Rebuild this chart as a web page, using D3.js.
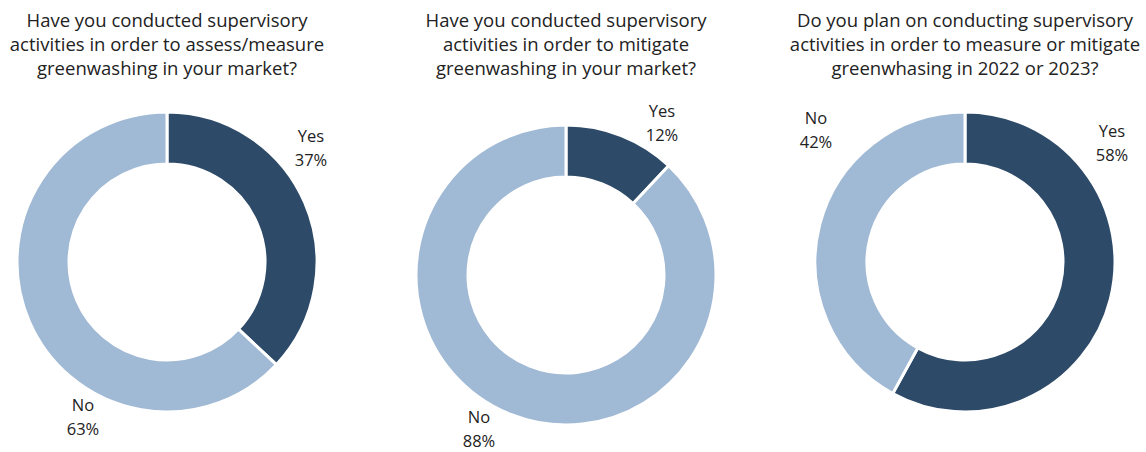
<!DOCTYPE html>
<html><head><meta charset="utf-8">
<script src="https://cdn.jsdelivr.net/npm/d3@7"></script>
<style>body{margin:0;background:#fff}svg{display:block}</style>
</head><body><svg id="c" width="1146" height="452"></svg>
<script>
const titles = [
  ["Have you conducted supervisory","activities in order to assess/measure","greenwashing in your market?"],
  ["Have you conducted supervisory","activities in order to mitigate","greenwashing in your market?"],
  ["Do you plan on conducting supervisory","activities in order to measure or mitigate","greenwhasing in 2022 or 2023?"]
];
const categories = ["Yes","No"];
const yesValues = [37, 12, 58];
const noValues = [63, 88, 42];
const colors = ["#2d4a68","#a0b9d4"];

// layout
const centers = [[167,262],[566,275],[965,262]];
const titleX = [167,566,965];
const outerR = 150, innerR = 98;
const labelPos = [
  [[311,142],[83,411]],
  [[662,117],[479,423]],
  [[1112,137],[816,124]]
];

const svg = d3.select("#c");
const pie = d3.pie().sort(null).value(d=>d.v);
const arc = d3.arc().innerRadius(innerR).outerRadius(outerR);

titles.forEach((t,i)=>{
  const tg = svg.append("text").attr("text-anchor","middle")
    .attr("font-family","'Open Sans', sans-serif").attr("font-size",18.5).attr("fill","#222");
  t.forEach((line,j)=>tg.append("tspan").attr("x",titleX[i]).attr("y",27+j*24).text(line));

  const data = categories.map((c,k)=>({c, v: k===0?yesValues[i]:noValues[i]}));
  const g = svg.append("g").attr("transform",`translate(${centers[i]})`);
  g.selectAll("path").data(pie(data)).join("path")
    .attr("d",arc).attr("fill",(d,k)=>colors[k])
    .attr("stroke","#fff").attr("stroke-width",3);

  data.forEach((d,k)=>{
    const [lx,ly] = labelPos[i][k];
    const lt = svg.append("text").attr("text-anchor","middle")
      .attr("font-family","'Open Sans', sans-serif").attr("font-size",16.5).attr("fill","#222");
    lt.append("tspan").attr("x",lx).attr("y",ly).text(d.c);
    lt.append("tspan").attr("x",lx).attr("y",ly+24).text(d.v+"%");
  });
});
</script></body></html>
